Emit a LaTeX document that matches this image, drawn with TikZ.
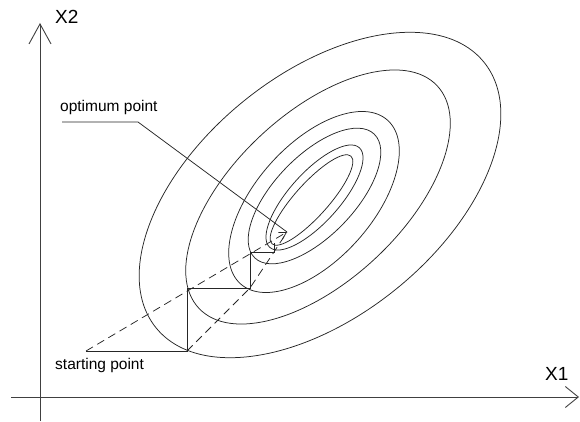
\documentclass[tikz,border=0pt]{standalone}
\usepackage{fontspec}
\setmainfont{Liberation Sans}
\usetikzlibrary{arrows.meta}

\begin{document}
\begin{tikzpicture}[
    x=1pt, y=-1pt,
    axis/.style={line width=0.9pt, black!75},
    contour/.style={line width=0.75pt, black!85},
    stepline/.style={line width=0.8pt, black!85},
    guide/.style={line width=0.75pt, black!85, dash pattern=on 8pt off 5pt},
    leader/.style={line width=0.75pt, black!85},
    lbl/.style={font=\fontsize{15.5}{18}\selectfont, inner sep=0pt, anchor=base west},
    axlbl/.style={font=\fontsize{19}{22}\selectfont, inner sep=0pt, anchor=base west}
  ]
  \useasboundingbox (0,0) rectangle (580,422);

  % axes
  \coordinate (ybot) at (40,421);
  \coordinate (ytop) at (40,23);
  \coordinate (xleft) at (11,397);
  \coordinate (xright) at (579,397);
  \draw[axis, -{Straight Barb[length=20pt, width=22pt]}] (ybot) -- (ytop);
  \draw[axis, -{Straight Barb[length=13pt, width=21pt]}] (xleft) -- (xright);
  \node[axlbl] (xtwo) at (55,24) {X2};
  \node[axlbl] (xone) at (545,380) {X1};

  % contour lines
  \foreach \cx/\cy/\ra/\rb/\ang in {320/195/211/121/39, 318/197/163/84/43, 314/202/110/58/48,
      314.5/196/86/40/46, 314.5/197.5/67/25/48, 311.5/200/59/16.6/48}
    \draw[contour, rotate around={\ang:(\cx,\cy)}] (\cx,\cy) ellipse [x radius=\ra, y radius=\rb];

  % descent steps
  \coordinate (start) at (86,351);
  \coordinate (s1) at (187,351);
  \coordinate (s2) at (187,288);
  \coordinate (s3) at (250,288);
  \coordinate (s4) at (250,252);
  \coordinate (s5) at (274,252);
  \coordinate (s6) at (274,243);
  \coordinate (opt) at (287,232);
  \draw[stepline] (start) -- (s1) -- (s2) -- (s3) -- (s4) -- (s5) -- (s6);
  \draw[guide, -{Straight Barb[length=7pt, width=8pt]}] (start) -- (opt);
  \draw[guide] (s1) -- (s3) -- (s5) -- (opt);

  % labels
  \node[lbl] (optlbl) at (60,111.7) {optimum point};
  \node[lbl] (startlbl) at (55,369) {starting point};
  \coordinate (lead0) at (62,122);
  \coordinate (leadbend) at (138,122);
  \draw[leader] (lead0) -- (leadbend) -- (opt);
\end{tikzpicture}
\end{document}
